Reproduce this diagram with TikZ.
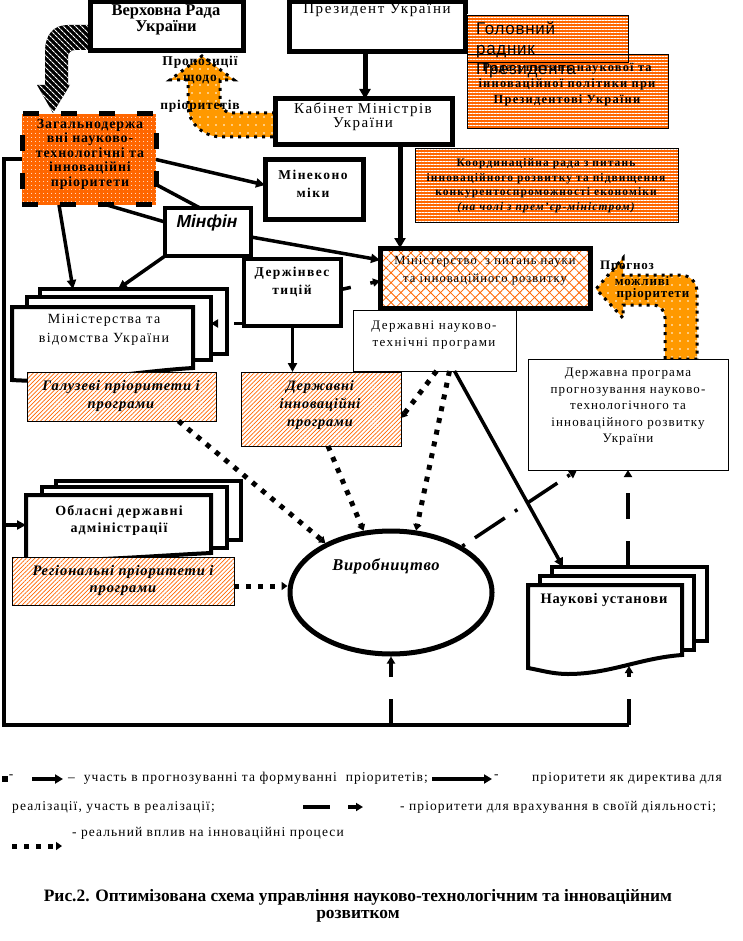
\documentclass[tikz,border=0pt]{standalone}
\usepackage{fontspec}
\setmainfont{Liberation Serif}
\newfontfamily\arialf{Liberation Sans}
\usetikzlibrary{arrows.meta,patterns.meta,shapes.geometric}
\definecolor{orA}{HTML}{FF6600}
\definecolor{orB}{HTML}{FF9900}
\newcommand\fs[2]{\fontsize{#1}{#2}\selectfont}
\newcommand\LS[1]{\addfontfeature{LetterSpace=#1}}
\newcommand\bx[6]{\node[#1,inner sep=0pt,outer sep=0pt,minimum width={(#5)-(#3)},minimum height={(#6)-(#4)}] (#2) at ({((#3)+(#5))/2},{((#4)+(#6))/2}) {};}
\begin{document}
\begin{tikzpicture}[x=1pt,y=-1pt,
  tb/.style={draw,line width=5pt,fill=white},
  tm/.style={draw,line width=4pt,fill=white},
  nb/.style={draw,line width=0.8pt,fill=white},
  stripes/.style={preaction={fill=orA},pattern={Lines[angle=0,distance=3pt,line width=0.6pt]},pattern color=white},
  hatchO/.style={preaction={fill=white},pattern={Lines[angle=45,distance=3pt,line width=0.7pt]},pattern color=orA},
  cross/.style={preaction={fill=white},preaction={pattern={Lines[angle=45,distance=7pt,line width=0.8pt]},pattern color=orA},pattern={Lines[angle=-45,distance=7pt,line width=0.8pt]},pattern color=orA},
  dotsO/.style={preaction={fill=orA},pattern={Dots[distance=4pt,radius=0.6pt]},pattern color=white},
  arrdots/.style={preaction={fill=orB},pattern={Dots[distance=8pt,radius=0.8pt]},pattern color=white},
  txt/.style={align=center,inner sep=0pt},
  arr/.style={line width=3.5pt,-{Triangle[length=9pt,width=9pt]}},
  arrT/.style={line width=5pt,-{Triangle[length=10pt,width=11pt]}},
  link/.style={line width=3.5pt},
  part/.style={line width=3.5pt,dash pattern=on 3pt off 12pt on 36pt off 12pt,-{Triangle[length=8pt,width=9pt]}},
  partS/.style={line width=3.5pt,dash pattern=on 10pt off 20pt,-{Triangle[length=7pt,width=8pt]}},
  real/.style={line width=5pt,dash pattern=on 5pt off 7pt,-{Triangle[length=6pt,width=8pt]}},
  cons/.style={line width=4pt,dash pattern=on 26pt off 22pt,-{Triangle[length=7pt,width=8pt]}},
  lg/.style={inner sep=0pt,font=\fs{13.5}{15}\LS{8}},
]
\useasboundingbox (0,0) rectangle (742,941);

% ---- block arrows ----
\path[fill=black,postaction={pattern={Lines[angle=-45,distance=4pt,line width=1.2pt]},pattern color=white}]
  (90,25) -- (68,25) .. controls (53,25) and (45,35) .. (45,52) -- (45,85) -- (37,85) -- (53,113) -- (70,85) -- (68,85) -- (68,57) .. controls (68,53) and (71,50) .. (75,50) -- (90,50) -- cycle;
\path[arrdots,draw=black,line width=3pt,dash pattern=on 3pt off 5pt]
  (275,113) -- (232,113) .. controls (225,113) and (220,108) .. (220,100) -- (220,80) -- (234,80) -- (202,56) -- (170,80) -- (188,80) -- (188,105) .. controls (188,125) and (205,137) .. (222,137) -- (275,137) -- cycle;
\path[arrdots,draw=black,line width=3pt,dash pattern=on 3pt off 5pt]
  (665,359) -- (665,318) .. controls (665,310) and (660,305) .. (652,305) -- (623,305) -- (623,318) -- (596,289) -- (623,258) -- (623,275) -- (680,275) .. controls (690,275) and (697,282) .. (697,292) -- (697,359) -- cycle;

% ---- boxes ----
\bx{tb}{vr}{90}{2}{243}{51}
\bx{tb}{pres}{289}{2}{465}{52}
\bx{tb}{kab}{275}{99}{452}{145}
\bx{stripes}{rad1}{467}{15}{628}{62}
\bx{stripes}{rad2}{467}{54}{668}{128}
\draw[line width=0.8pt] (rad1.north west) rectangle (rad1.south east);
\draw[line width=0.8pt] (rad2.north west) rectangle (rad2.south east);
\bx{stripes,draw,line width=0.8pt}{koord}{415}{148}{678}{222}
\bx{dotsO,draw,line width=5pt,dash pattern=on 16pt off 22pt}{zag}{22}{114}{156}{205}
\bx{tb}{mek}{265}{160}{363}{220}
\bx{tm}{minfin}{165}{208}{251}{256}
\bx{tm}{dinv}{244}{259}{341}{326}
\bx{draw,line width=5pt,cross}{mnauk}{380}{248}{590}{308}
\bx{nb}{dntp}{353}{310}{516}{371}
\bx{nb}{dprog}{528}{359}{728}{470}
% stacked ministries
\bx{tm}{mv3}{40}{289}{227}{354}
\bx{tm}{mv2}{27}{297}{211}{360}
\draw[line width=4pt,fill=white] (12,307) -- (193,307) -- (193,368) .. controls (140,371) and (70,384) .. (12,380) -- cycle;
\bx{nb,hatchO}{galuz}{27}{372}{216}{421}
\bx{nb,hatchO}{dinnov}{241}{372}{401}{446}
% stacked oblast
\bx{tm}{obl3}{56}{481}{241}{540}
\bx{tm}{obl2}{42}{487}{227}{548}
\draw[line width=4pt,fill=white] (26,495) -- (211,495) -- (211,553) .. controls (150,556) and (80,562) .. (26,560) -- cycle;
\bx{draw=none}{obl}{26}{495}{211}{555}
\bx{nb,hatchO}{reg}{12}{557}{234}{605}
% science institutions
\bx{tm}{nk3}{552}{567}{707}{641}
\bx{tm}{nk2}{540}{576}{694}{650}
\draw[line width=4pt,fill=white] (528,585) -- (682,585) -- (682,655) .. controls (640,658) and (610,674) .. (568,674) .. controls (552,674) and (540,670) .. (528,668) -- cycle;
\coordinate (nkB) at (629,666);
\node[draw,line width=5pt,fill=white,ellipse,inner sep=0pt,minimum width=202pt,minimum height=123pt] (vyr) at (391,592.5) {};

% ---- texts ----
\node[txt,font=\bfseries\fs{16.5}{14}] (vrt) at (166,20) {Верховна Рада\\України};
\node[txt,font=\fs{15}{15}\LS{11}] (prest) at (377,10) {Президент України};
\node[txt,font=\fs{15}{13}\LS{10}] (kabt) at (363,116.5) {Кабінет Міністрів\\України};
\node[txt,font=\bfseries\fs{12.5}{16}\LS{9.5}] (rad2t) at (567,85) {Рада з питань наукової та\\інноваційної політики при\\Президентові України};
\node[txt,align=left,anchor=west,font=\arialf\fs{17}{20}\LS{4}] (rad1t) at (476,50) {Головний\\радник\\Президента};
\node[txt,font=\bfseries\fs{11.5}{14.5}\LS{9.5}] (koordt) at (546,185.5) {Координаційна рада з питань\\інноваційного розвитку та підвищення\\конкурентоспроможності економіки\\\itshape(на чолі з прем’єр-міністром)};
\node[txt,font=\bfseries\fs{14}{14.5}\LS{6}] (zagt) at (90,154) {Загальнодержа\\вні науково-\\технологічні та\\інноваційні\\пріоритети};
\node[txt,font=\bfseries\fs{13.5}{16}\LS{6}] (propt) at (200,84) {Пропозиції\\щодо\\[12pt]пріоритетів};
\node[txt,font=\bfseries\fs{13.5}{18}\LS{10.5}] (mekt) at (313,184) {Мінеконо\\міки};
\node[txt,font=\arialf\bfseries\itshape\fs{17.5}{18}] (minfint) at (207,223) {Мінфін};
\node[txt,font=\bfseries\fs{13.5}{18}\LS{10}] (dinvt) at (292,282) {Держінвес\\тицій};
\node[txt,font=\fs{12.5}{18}\LS{8.5}] (mnaukt) at (485,271) {Міністерство\ \ з питань науки\\та інноваційного розвитку};
\node[txt,font=\fs{13}{17}\LS{11}] (dntpt) at (434,335.5) {Державні науково-\\технічні програми};
\node[txt,font=\fs{14}{19}\LS{10}] (mvt) at (104,329.5) {Міністерства та\\відомства України};
\node[txt,font=\bfseries\itshape\fs{14.5}{18}\LS{6}] (galuzt) at (121,396) {Галузеві пріоритети і\\програми};
\node[txt,font=\bfseries\itshape\fs{14.3}{18}\LS{6}] (dinnovt) at (320,405) {Державні\\інноваційні\\програми};
\node[txt,font=\fs{13}{16.5}\LS{8.5}] (dprogt) at (628,407) {Державна програма\\прогнозування науково-\\технологічного та\\інноваційного розвитку\\України};
\node[txt,anchor=west,font=\bfseries\fs{13}{14}\LS{6}] (prog1) at (600,267) {Прогноз};
\node[txt,font=\bfseries\fs{13}{14}\LS{6}] (prog2) at (642,281) {можливі};
\node[txt,font=\bfseries\fs{13}{14}\LS{6}] (prog3) at (653,294) {пріоритети};
\node[txt,font=\bfseries\fs{14}{17}\LS{8}] (oblt) at (119,520.5) {Обласні державні\\адміністрації};
\node[txt,font=\bfseries\itshape\fs{14.5}{17}\LS{6}] (regt) at (123,580.5) {Регіональні пріоритети і\\програми};
\node[txt,font=\bfseries\itshape\fs{16.5}{16}\LS{4}] (vyrt) at (386,566) {Виробництво};
\node[txt,font=\bfseries\fs{14.5}{16}\LS{6}] (nkt) at (604,600) {Наукові установи};

% ---- frame ----
\coordinate (fTL) at (4,159.5);
\coordinate (fBL) at (4,725);
\coordinate (fBM) at (391,725);
\coordinate (fBR) at (629,725);
\draw[line width=4pt] (zag.west) -- (fTL) -- (fBL) -- (fBR);
\draw[arr] (fTL |- obl.west) -- (obl.west);
\draw[cons] (fBM) -- (vyr.south);
\draw[cons] (fBR) -- (nkB);

% ---- connectors ----
\draw[arrT] ([xshift=-12pt]pres.south) -- ([xshift=-12pt]pres.south |- kab.north);
\draw[arrT] ([xshift=36.5pt]kab.south) -- ([xshift=20pt]mnauk.north west);
\draw[arr] (zag.east) -- ([yshift=5pt]mek.west);
\draw[link] ([yshift=-25pt]zag.east) -- ([xshift=-8pt]minfin.north);
\draw[link] ([xshift=18pt]zag.south) -- ([yshift=10pt]minfin.west);
\draw[arr] ([xshift=-30pt]zag.south) -- ([xshift=33pt]mv3.north west);
\draw[arr] (minfin.south west) -- ([xshift=78pt]mv3.north west);
\draw[arr] ([yshift=-5pt]minfin.east) -- ([yshift=18pt]mnauk.west);
\draw[arr] (dinv.south) -- (dinv.south |- dinnov.north);
\draw[partS] ([yshift=3pt]dinv.east) -- ([yshift=-3pt]mnauk.west);
\draw[partS] ([yshift=-31pt]dinv.west) -- ([yshift=-31pt]dinv.west -| mv2.east);
\draw[arr] ([xshift=20pt]dntp.south) -- ([xshift=11pt]nk3.north west);
\draw[real] ([xshift=57pt]galuz.south) -- (vyr.143);
\draw[real] ([xshift=7pt]dinnov.south) -- (vyr.114);
\draw[real] ([xshift=15pt]dntp.south) -- (vyr.68);
\draw[real] ([xshift=2pt]dntp.south) -- ([yshift=-9pt]dinnov.east);
\draw[real] ([yshift=-5pt]reg.east) -- ([yshift=-5pt]reg.east -| vyr.west);
\draw[part] (vyr.33) -- ([xshift=49pt]dprog.south west);
\draw[cons] (dprog.south |- nk3.north) -- (dprog.south);

% ---- legend ----
\fill (2,776) rectangle (8,782);
\node[lg] (lg0) at (11,777) {-};
\coordinate (l1a) at (32,779); \coordinate (l1b) at (63,779);
\draw[line width=4pt,-{Triangle[length=8pt,width=9pt]}] (l1a) -- (l1b);
\node[lg,anchor=west] (lg1) at (68,778) {–\ \ участь в прогнозуванні та формуванні\ \ пріоритетів;};
\coordinate (l2a) at (432,779); \coordinate (l2b) at (492,779);
\draw[line width=4pt,-{Triangle[length=8pt,width=9pt]}] (l2a) -- (l2b);
\node[lg,anchor=west] (lg1b) at (494,777) {-};
\node[lg,anchor=west] (lg1c) at (532,778) {пріоритети як директива для};
\node[lg,anchor=west] (lg2) at (12,807) {реалізації, участь в реалізації;};
\coordinate (l3a) at (303,807); \coordinate (l3b) at (330,807);
\draw[line width=4.5pt] (l3a) -- (l3b);
\coordinate (l4a) at (348,807); \coordinate (l4b) at (363,807);
\draw[line width=4pt,-{Triangle[length=7pt,width=8pt]}] (l4a) -- (l4b);
\node[lg,anchor=west] (lg2b) at (400,807) {- пріоритети для врахування в своїй діяльності;};
\node[lg,anchor=west] (lg3) at (72,833) {- реальний вплив на інноваційні процеси};
\coordinate (l5a) at (12,846); \coordinate (l5b) at (62,846);
\draw[real] (l5a) -- (l5b);
\node[txt,font=\bfseries\fs{17.4}{17.5}] (cap) at (358,906) {Рис.2. Оптимізована схема управління науково-технологічним та інноваційним\\розвитком};
\end{tikzpicture}
\end{document}
